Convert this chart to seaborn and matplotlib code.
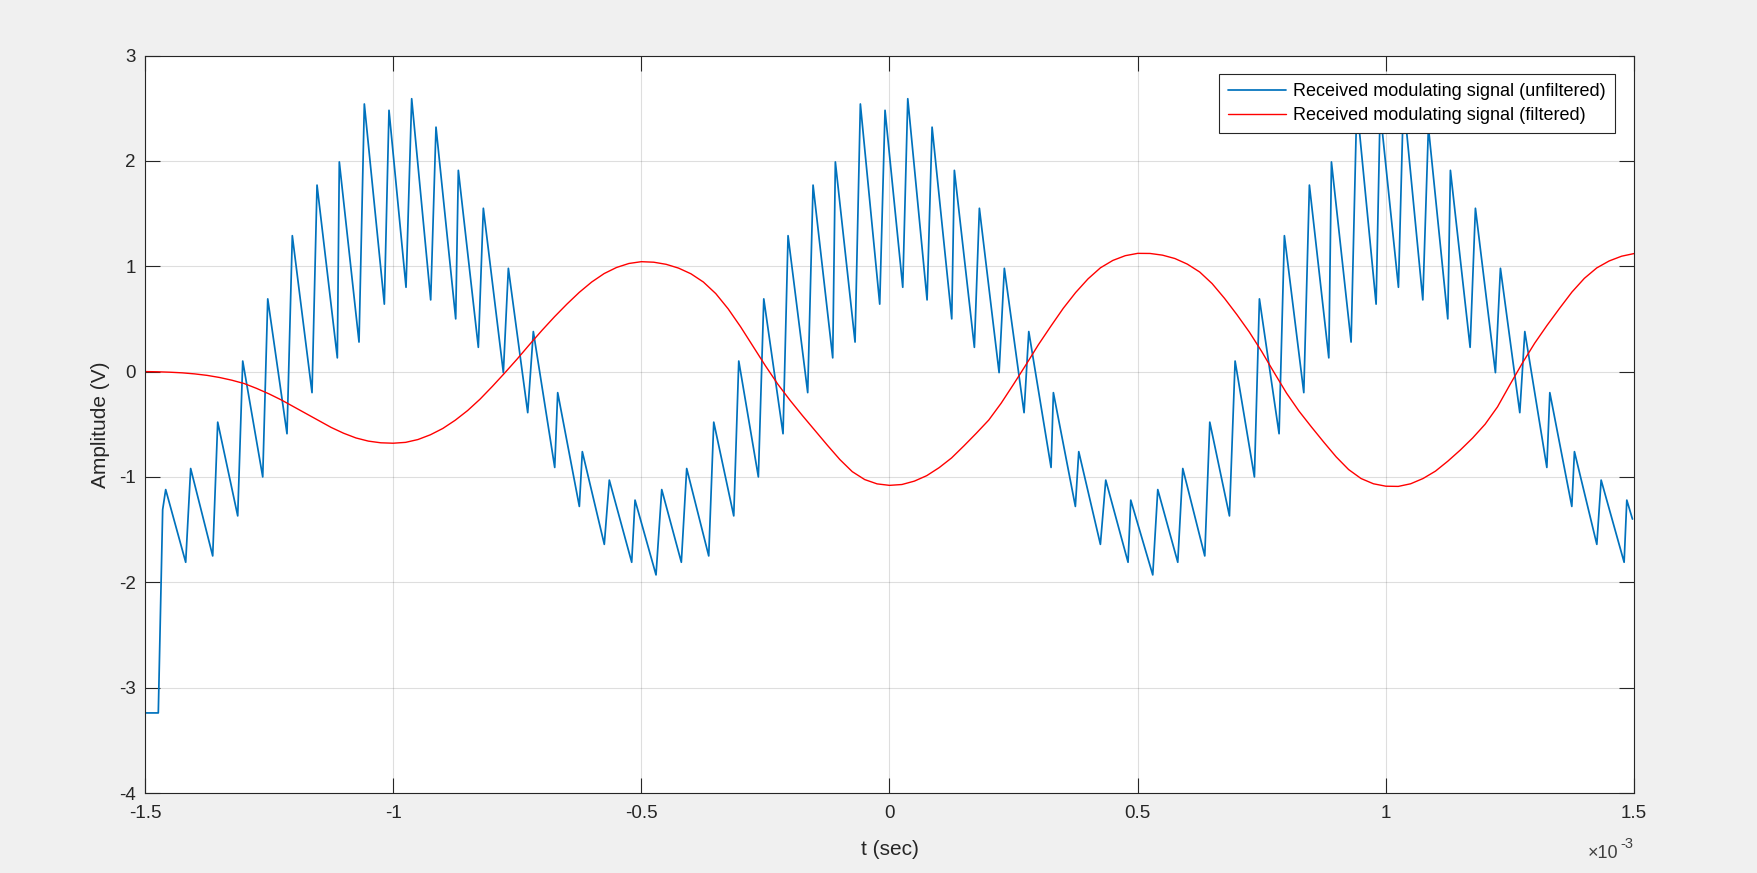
import numpy as np
import pandas as pd
import matplotlib
matplotlib.use("Agg")
import matplotlib.pyplot as plt
import seaborn as sns

# ---------------- data (time in ms, i.e. x10^-3 s) ----------------
label_unf = "Received modulating signal (unfiltered)"
label_fil = "Received modulating signal (filtered)"

# unfiltered (envelope-detector output) vertices
t_unf = [
    -1.5, -1.4732, -1.4644, -1.4583, -1.418, -1.408, -1.3636, -1.3535, -1.3132, -1.3031,
    -1.2628, -1.2527, -1.2139, -1.2032, -1.1635, -1.1534, -1.1125, -1.1085, -1.0688, -1.0581,
    -1.0178, -1.0084, -0.9741, -0.9627, -0.9244, -0.9137, -0.8740, -0.8687, -0.8284, -0.8183,
    -0.7780, -0.7679, -0.7289, -0.7176, -0.6745, -0.6685, -0.6249, -0.6189, -0.5746, -0.5645,
    -0.5194, -0.5127,
    -0.4704, -0.4589, -0.4194, -0.4086, -0.3642, -0.3541, -0.3138, -0.3037, -0.2642, -0.2533,
    -0.2145, -0.2044, -0.1648, -0.1540, -0.1144, -0.1091, -0.0694, -0.0587, -0.0197, -0.0090,
    0.0267, 0.0368, 0.0757, 0.0858, 0.1254, 0.1307, 0.1710, 0.1811, 0.2208, 0.2314,
    0.2711, 0.2806, 0.3255, 0.3302, 0.3745, 0.3813, 0.4249, 0.4357, 0.4806, 0.4861,
    0.5304, 0.5405, 0.5808, 0.5909, 0.6352, 0.6453, 0.6849, 0.6963, 0.7352, 0.7453,
    0.7849, 0.7956, 0.8347, 0.8460, 0.8851, 0.8904, 0.9300, 0.9415, 0.9804, 0.9885,
    1.0254, 1.0355, 1.0745, 1.0858, 1.1248, 1.1301, 1.1698, 1.1805, 1.2208, 1.2309,
    1.2699, 1.2800, 1.3244, 1.3304, 1.3747, 1.3800, 1.4251, 1.4338, 1.4801, 1.4855,
    1.4969,
]
v_unf = [
    -3.24, -3.24, -1.31, -1.12, -1.81, -0.92, -1.75, -0.48, -1.37, 0.10,
    -1.00, 0.69, -0.59, 1.29, -0.20, 1.77, 0.13, 1.99, 0.28, 2.54,
    0.64, 2.48, 0.80, 2.59, 0.68, 2.32, 0.50, 1.91, 0.23, 1.55,
    -0.01, 0.98, -0.39, 0.38, -0.91, -0.20, -1.28, -0.76, -1.64, -1.03,
    -1.81, -1.22,
    -1.93, -1.12, -1.81, -0.92, -1.75, -0.48, -1.37, 0.10, -1.00, 0.69,
    -0.59, 1.29, -0.20, 1.77, 0.13, 1.99, 0.28, 2.54, 0.64, 2.48,
    0.80, 2.59, 0.68, 2.32, 0.50, 1.91, 0.23, 1.55, -0.01, 0.98,
    -0.39, 0.38, -0.91, -0.20, -1.28, -0.76, -1.64, -1.03, -1.81, -1.22,
    -1.93, -1.12, -1.81, -0.92, -1.75, -0.48, -1.37, 0.10, -1.00, 0.69,
    -0.59, 1.29, -0.20, 1.77, 0.13, 1.99, 0.28, 2.54, 0.64, 2.48,
    0.80, 2.59, 0.68, 2.32, 0.50, 1.91, 0.23, 1.55, -0.01, 0.98,
    -0.39, 0.38, -0.91, -0.20, -1.28, -0.76, -1.64, -1.03, -1.81, -1.22,
    -1.40,
]

# filtered signal, every 0.025 ms
t_fil = [
    -1.500, -1.475, -1.450, -1.425, -1.400, -1.375, -1.350, -1.325, -1.300, -1.275,
    -1.250, -1.225, -1.200, -1.175, -1.150, -1.125, -1.100, -1.075, -1.050, -1.025,
    -1.000, -0.975, -0.950, -0.925, -0.900, -0.875, -0.850, -0.825, -0.800, -0.775,
    -0.750, -0.725, -0.700, -0.675, -0.650, -0.625, -0.600, -0.575, -0.550, -0.525,
    -0.500, -0.475, -0.450, -0.425, -0.400, -0.375, -0.350, -0.325, -0.300, -0.275,
    -0.250, -0.225, -0.200, -0.175, -0.150, -0.125, -0.100, -0.075, -0.050, -0.025,
    0.000, 0.025, 0.050, 0.075, 0.100, 0.125, 0.150, 0.175, 0.200, 0.225,
    0.250, 0.275, 0.300, 0.325, 0.350, 0.375, 0.400, 0.425, 0.450, 0.475,
    0.500, 0.525, 0.550, 0.575, 0.600, 0.625, 0.650, 0.675, 0.700, 0.725,
    0.750, 0.775, 0.800, 0.825, 0.850, 0.875, 0.900, 0.925, 0.950, 0.975,
    1.000, 1.025, 1.050, 1.075, 1.100, 1.125, 1.150, 1.175, 1.200, 1.225,
    1.250, 1.275, 1.300, 1.325, 1.350, 1.375, 1.400, 1.425, 1.450, 1.475,
    1.500,
]
v_fil = [
    0.000, -0.002, -0.006, -0.012, -0.022, -0.036, -0.056, -0.082, -0.114, -0.160,
    -0.212, -0.270, -0.335, -0.400, -0.465, -0.530, -0.585, -0.630, -0.660, -0.676,
    -0.680, -0.672, -0.645, -0.600, -0.540, -0.462, -0.370, -0.262, -0.140, -0.012,
    0.120, 0.258, 0.392, 0.520, 0.640, 0.752, 0.850, 0.930, 0.988, 1.026,
    1.043, 1.038, 1.018, 0.982, 0.928, 0.850, 0.740, 0.595, 0.425, 0.240,
    0.055, -0.120, -0.275, -0.420, -0.560, -0.700, -0.835, -0.950, -1.025, -1.066,
    -1.080, -1.072, -1.040, -0.988, -0.912, -0.820, -0.705, -0.585, -0.460, -0.300,
    -0.120, 0.065, 0.255, 0.430, 0.600, 0.750, 0.880, 0.985, 1.055, 1.100,
    1.122, 1.121, 1.105, 1.073, 1.020, 0.945, 0.835, 0.695, 0.540, 0.375,
    0.190, -0.010, -0.205, -0.375, -0.525, -0.670, -0.810, -0.930, -1.015, -1.065,
    -1.088, -1.090, -1.065, -1.015, -0.945, -0.850, -0.745, -0.630, -0.500, -0.335,
    -0.125, 0.080, 0.270, 0.440, 0.600, 0.755, 0.885, 0.984, 1.050, 1.095,
    1.120,
]

x_ticks = [-1.5, -1.0, -0.5, 0.0, 0.5, 1.0, 1.5]
x_tick_labels = ["-1.5", "-1", "-0.5", "0", "0.5", "1", "1.5"]
y_ticks = [-4, -3, -2, -1, 0, 1, 2, 3]
y_tick_labels = ["-4", "-3", "-2", "-1", "0", "1", "2", "3"]

# ---------------- style ----------------
sns.set_style("white")
plt.rcParams["font.family"] = ["Liberation Sans", "DejaVu Sans"]
plt.rcParams["axes.unicode_minus"] = False

TXT = "#262626"
W, H = 1758, 873

fig = plt.figure(figsize=(W / 100, H / 100), dpi=100, facecolor="#f0f0f0")
left, right, top, bottom = 145, 1634, 55.5, 793
ax = fig.add_axes([left / W, 1 - bottom / H, (right - left) / W, (bottom - top) / H])
ax.set_facecolor("white")

df_u = pd.DataFrame({"t": t_unf, "v": v_unf})
df_f = pd.DataFrame({"t": t_fil, "v": v_fil})

sns.lineplot(data=df_u, x="t", y="v", sort=False, estimator=None, ax=ax,
             color="#0072BD", linewidth=1.25, label=label_unf, legend=False)
sns.lineplot(data=df_f, x="t", y="v", sort=False, estimator=None, ax=ax,
             color="#FF0000", linewidth=1.0, label=label_fil, legend=False)

ax.set_xlim(-1.5, 1.5)
ax.set_ylim(-4, 3)
ax.set_xticks(x_ticks)
ax.set_xticklabels(x_tick_labels)
ax.set_yticks(y_ticks)
ax.set_yticklabels(y_tick_labels)

ax.set_axisbelow(True)
ax.grid(True, color=TXT, alpha=0.15, linewidth=0.8)
ax.tick_params(axis="both", direction="in", length=10.7, width=0.8,
               bottom=True, left=True, top=True, right=True,
               labelsize=13.5, colors=TXT)
ax.tick_params(axis="x", pad=9)
ax.tick_params(axis="y", pad=6.5)
for s in ax.spines.values():
    s.set_color(TXT)
    s.set_linewidth(0.8)
    s.set_visible(True)

ax.set_xlabel("t (sec)", fontsize=15, color=TXT)
ax.set_ylabel("Amplitude (V)", fontsize=15, color=TXT)
ax.xaxis.set_label_coords(0.5, -0.064)
ax.yaxis.set_label_coords(-0.0235, 0.5)

# x10^-3 exponent label
fig.text(1618 / W, 1 - 858 / H, "\u00d710", fontsize=13, color="#404040",
         ha="right", va="baseline")
fig.text(1633 / W, 1 - 848 / H, "-3", fontsize=10.5, color="#404040",
         ha="right", va="baseline")

leg = ax.legend(loc="upper right", bbox_to_anchor=(1615 / W, 1 - 74 / H),
                bbox_transform=fig.transFigure, borderaxespad=0,
                fontsize=13, handlelength=3.2, handletextpad=0.4,
                borderpad=0.5, labelspacing=0.38, frameon=True,
                fancybox=False, framealpha=1, edgecolor=TXT)
leg.get_frame().set_linewidth(0.8)
for txt in leg.get_texts():
    txt.set_color("#000000")

fig.savefig("out.png", dpi=100, facecolor=fig.get_facecolor())
